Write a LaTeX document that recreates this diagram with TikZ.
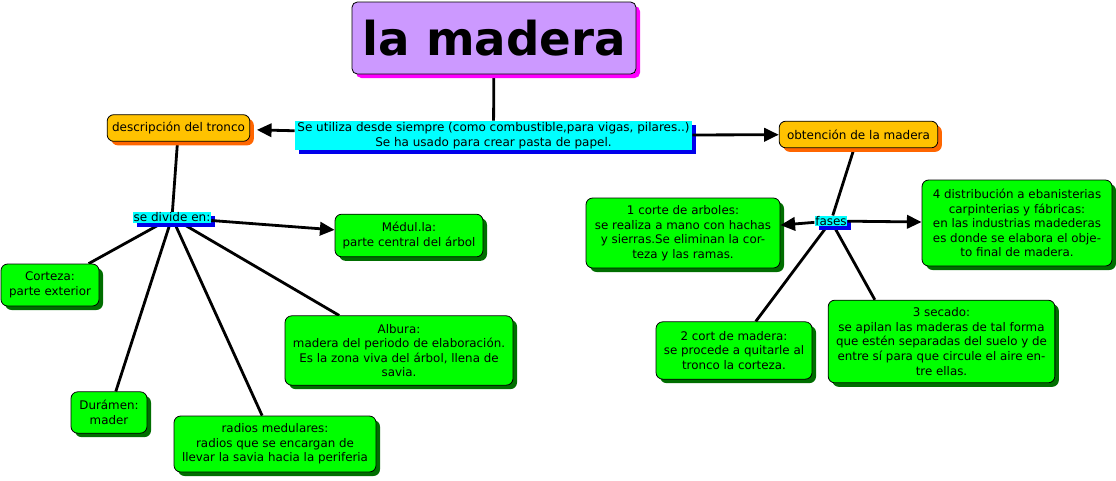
\documentclass[tikz,border=0pt]{standalone}
\usepackage{fontspec}
\setmainfont{DejaVu Sans}
\usepackage{xcolor}
\usepackage{tikz}
\usetikzlibrary{arrows.meta, shadows, backgrounds}
\definecolor{mylav}{RGB}{204,153,255}
\definecolor{mymag}{RGB}{255,0,255}
\definecolor{mygold}{RGB}{255,194,0}
\definecolor{myorange}{RGB}{255,102,0}
\definecolor{mycyan}{RGB}{0,255,255}
\definecolor{myblue}{RGB}{0,0,235}
\definecolor{mygreen}{RGB}{0,255,0}
\definecolor{mydkgreen}{RGB}{0,110,0}
\tikzset{
  titlebox/.style={rectangle, draw=black, fill=mylav, rounded corners=4pt,
    minimum width=213pt, minimum height=54pt, line width=0.6pt,
    font=\fontsize{35}{40}\selectfont\bfseries,
    drop shadow={shadow xshift=3pt, shadow yshift=-3pt, fill=mymag, opacity=1}},
  topicbox/.style={rectangle, draw=black, fill=mygold, rounded corners=5pt,
    minimum height=20pt, line width=0.6pt, font=\fontsize{9}{10.9}\selectfont,
    drop shadow={shadow xshift=3pt, shadow yshift=-3pt, fill=myorange, opacity=1}},
  notebox/.style={rectangle, fill=mycyan, inner sep=1pt, align=center,
    font=\fontsize{9}{10.9}\selectfont,
    drop shadow={shadow xshift=3pt, shadow yshift=-3pt, fill=myblue, opacity=1}},
  leafbox/.style={rectangle, draw=black, fill=mygreen, rounded corners=5pt,
    align=center, line width=0.6pt, font=\fontsize{8.9}{10.9}\selectfont,
    drop shadow={shadow xshift=3pt, shadow yshift=-3pt, fill=mydkgreen, opacity=1}},
  arrow/.style={-{Triangle[length=11pt, width=10pt]}, line width=2.1pt, color=black},
  line/.style={line width=2.1pt, color=black}
}
\begin{document}
\begin{tikzpicture}[x=0.75pt, y=-0.75pt]
  \useasboundingbox (0,0) rectangle (1116,480);
  % title and top note
  \node[titlebox] (title) at (494,38) {la madera};
  \node[notebox, minimum width=298pt, minimum height=22pt] (uso) at (493.5,135.5)
    {Se utiliza desde siempre (como combustible,para vigas, pilares..)\\Se ha usado para crear pasta de papel.};
  \node[topicbox, minimum width=107pt] (tronco) at (178.5,128) {descripción del tronco};
  \node[topicbox, minimum width=119pt] (obtencion) at (858.5,134.5) {obtención de la madera};
  % parts of the trunk
  \node[notebox, inner sep=0.5pt] (divide) at (172,217.5) {se divide en:};
  \node[leafbox, minimum width=111pt, minimum height=32pt] (medula) at (409,235.5)
    {Médul.la:\\parte central del árbol};
  \node[leafbox, minimum width=73.5pt, minimum height=31.5pt] (corteza) at (50,285)
    {Corteza:\\parte exterior};
  \node[leafbox, minimum width=57pt, minimum height=31pt] (duramen) at (109,412.5)
    {Durámen:\\mader};
  \node[leafbox, minimum width=151.5pt, minimum height=42pt] (radios) at (275,444)
    {radios medulares:\\radios que se encargan de\\llevar la savia hacia la periferia};
  \node[leafbox, minimum width=171pt, minimum height=52pt] (albura) at (399,350.5)
    {Albura:\\madera del periodo de elaboración.\\Es la zona viva del árbol, llena de\\savia.};
  % phases
  \node[notebox, inner sep=0.5pt] (fases) at (831,221) {fases};
  \node[leafbox, minimum width=145.5pt, minimum height=52.5pt] (corte) at (683,233)
    {1 corte de arboles:\\se realiza a mano con hachas\\y sierras.Se eliminan la cor-\\teza y las ramas.};
  \node[leafbox, minimum width=142.5pt, minimum height=64.5pt] (distrib) at (1017,223)
    {4 distribución a ebanisterias\\carpinterias y fábricas:\\en las industrias madederas\\es donde se elabora el obje-\\to final de madera.};
  \node[leafbox, minimum width=117pt, minimum height=43pt] (cort) at (734,350.5)
    {2 cort de madera:\\se procede a quitarle al\\tronco la corteza.};
  \node[leafbox, minimum width=170pt, minimum height=62pt] (secado) at (941.5,341.5)
    {3 secado:\\se apilan las maderas de tal forma\\que estén separadas del suelo y de\\entre sí para que circule el aire en-\\tre ellas.};
  % connectors
  \begin{scope}[on background layer]
    \draw[line] (title) -- (uso);
    \draw[line] (tronco) -- (divide);
    \draw[line] (obtencion) -- (fases);
    \draw[line] (divide) -- (corteza);
    \draw[line] (divide) -- (duramen);
    \draw[line] (divide) -- (radios);
    \draw[line] (divide) -- (albura);
    \draw[line] (fases) -- (cort);
    \draw[line] (fases) -- ([xshift=-50pt]secado.north);
  \end{scope}
  \draw[arrow, shorten >=5pt] (uso) -- (tronco);
  \draw[arrow] (uso) -- (obtencion);
  \draw[arrow] (divide) -- (medula);
  \draw[arrow] (fases) -- (corte);
  \draw[arrow] (fases) -- (distrib);
\end{tikzpicture}
\end{document}
